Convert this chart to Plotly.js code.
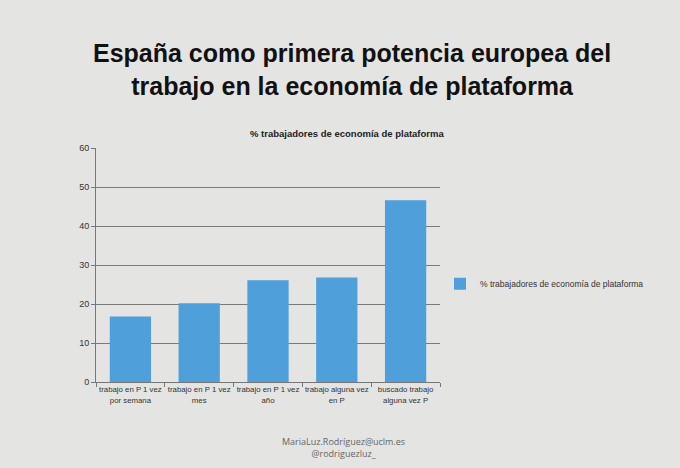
<!DOCTYPE html>
<html>
<head>
<meta charset="utf-8">
<script src="https://cdn.plot.ly/plotly-3.0.1.min.js"></script>
<style>
  body { margin: 0; background: #e4e4e2; }
  #chart { width: 680px; height: 468px; }
</style>
</head>
<body>
<div id="chart"></div>
<script>
var categorias = ['trabajo en P 1 vez<br>por semana', 'trabajo en P 1 vez<br>mes', 'trabajo en P 1 vez<br>año', 'trabajo alguna vez<br>en P', 'buscado trabajo<br>alguna vez P'];
var porcentajes = [16.8, 20.2, 26.1, 26.8, 46.6];
var serie = '% trabajadores de economía de plataforma';

var barras = {
  x: categorias,
  y: porcentajes,
  type: 'bar',
  name: serie,
  marker: { color: '#4f9fdb', line: { width: 0 } },
  hoverinfo: 'none'
};

var layout = {
  width: 680,
  height: 468,
  paper_bgcolor: '#e4e4e2',
  plot_bgcolor: '#e4e4e2',
  margin: { l: 96, r: 240, t: 148, b: 86 },
  bargap: 0.4,
  showlegend: true,
  legend: {
    x: 1.0, xanchor: 'left',
    y: 0.42, yanchor: 'middle',
    bgcolor: 'rgba(0,0,0,0)',
    font: { family: 'Liberation Sans', size: 8.5, color: '#333' },
    itemwidth: 30
  },
  xaxis: {
    type: 'category',
    showgrid: false,
    linecolor: '#777',
    linewidth: 1,
    ticks: 'outside',
    tickson: 'boundaries',
    ticklen: 4,
    tickcolor: '#777',
    tickangle: 0,
    tickfont: { family: 'Liberation Sans', size: 7.8, color: '#333' }
  },
  yaxis: {
    range: [0, 60],
    dtick: 10,
    gridcolor: '#7a7a7a',
    gridwidth: 1,
    linecolor: '#777',
    linewidth: 1,
    ticks: 'outside',
    ticklen: 4,
    tickcolor: '#777',
    zeroline: false,
    tickfont: { family: 'Liberation Sans', size: 9, color: '#333' }
  },
  annotations: [
    {
      xref: 'paper', yref: 'paper', x: 0.745, y: 1.335, xanchor: 'center', yanchor: 'middle',
      text: '<b>España como primera potencia europea del<br>trabajo en la economía de plataforma</b>',
      showarrow: false,
      font: { family: 'Liberation Sans', size: 25, color: '#111' }
    },
    {
      xref: 'paper', yref: 'paper', x: 0.73, y: 1.06, xanchor: 'center', yanchor: 'middle',
      text: '<b>' + serie + '</b>',
      showarrow: false,
      font: { family: 'Liberation Sans', size: 9.5, color: '#222' }
    },
    {
      xref: 'paper', yref: 'paper', x: 0.72, y: -0.22, xanchor: 'center', yanchor: 'top',
      text: 'MariaLuz.Rodríguez@uclm.es<br>@rodriguezluz_',
      showarrow: false,
      font: { family: 'Open Sans', size: 9, color: '#666' }
    }
  ]
};

Plotly.newPlot('chart', [barras], layout, { displayModeBar: false, staticPlot: true });
</script>
</body>
</html>
